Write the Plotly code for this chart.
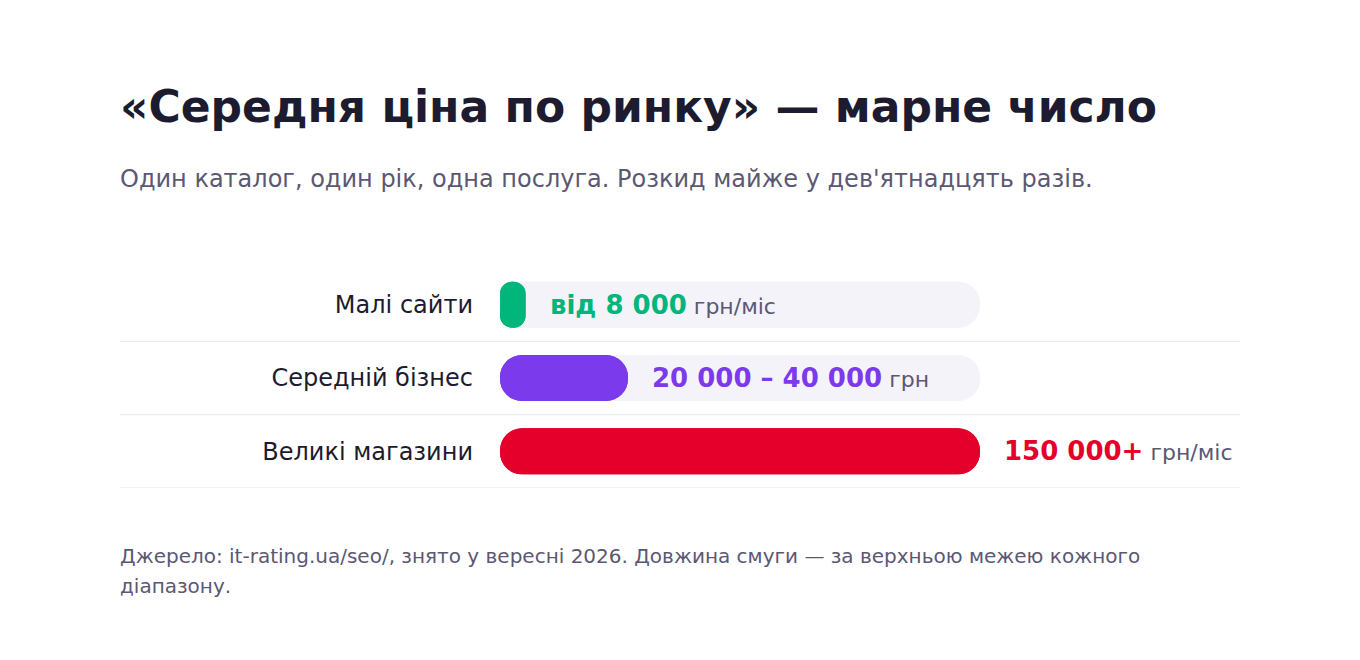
import plotly.graph_objects as go

# %% Дані
categories = ["Малі сайти", "Середній бізнес", "Великі магазини"]
upper_values = [8000, 40000, 150000]          # верхня межа діапазону, грн
value_labels = ["від 8 000", "20 000 – 40 000", "150 000+"]
unit_labels = ["грн/міс", "грн", "грн/міс"]
bar_colors = ["#00b67a", "#7c3aed", "#e4002b"]
track_max = 150000

# %% Розмітка сторінки (пікселі; сторінка має відступ 8px)
W, H = 1360, 660
OFF = 8
L, R, T, B = 500 - OFF, 380 + OFF, 268 - OFF, 172 + OFF
plot_w, plot_h = W - L - R, H - T - B

def px_x(px):
    return (px - OFF - L) / plot_w

def px_y(py):
    return (H - B - (py - OFF)) / plot_h

FONT = "DejaVu Sans"
DARK = "#1d1b2f"
GRAY = "#5b5873"
TEXT_X = px_x(118)   # анотації мають власний відступ ~2px

fig = go.Figure()

# фонові доріжки (два бари, щоб заокруглити обидва кінці)
for base, sign in [(0, 1), (track_max, -1)]:
    fig.add_trace(go.Bar(
        y=categories, x=[sign * track_max] * len(categories), base=[base] * len(categories),
        orientation="h", width=0.627, marker=dict(color="#f4f3fa", cornerradius=23, line_width=0),
        hoverinfo="skip", showlegend=False,
    ))

# самі смуги
for base_side in [0, 1]:
    fig.add_trace(go.Bar(
        y=categories,
        x=[v if base_side == 0 else -v for v in upper_values],
        base=[0 if base_side == 0 else v for v in upper_values],
        orientation="h", width=0.627,
        marker=dict(color=bar_colors, cornerradius=23, line_width=0),
        hoverinfo="skip", showlegend=False,
    ))

# підписи значень
for cat, v, lab, unit, col in zip(categories, upper_values, value_labels, unit_labels, bar_colors):
    fig.add_annotation(
        x=v, y=cat, xref="x", yref="y", xanchor="left", yanchor="middle", xshift=22,
        showarrow=False,
        text=f"<b><span style='color:{col};font-size:26px'>{lab}</span></b>"
             f" <span style='color:{GRAY};font-size:22px'>{unit}</span>",
        font=dict(family=FONT, size=22, color=GRAY),
    )

# розділювачі рядків
for i in range(len(categories)):
    fig.add_shape(type="line", xref="paper", yref="y",
                  x0=px_x(120), x1=px_x(1240), y0=i + 0.5, y1=i + 0.5,
                  line=dict(color="#e6e4f0", width=1))

# заголовок, підзаголовок, джерело
fig.add_annotation(x=TEXT_X, y=px_y(106), xref="paper", yref="paper",
                   xanchor="left", yanchor="middle", showarrow=False,
                   text="<b>«Середня ціна по ринку» — марне число</b>",
                   font=dict(family=FONT, size=44, color=DARK))
fig.add_annotation(x=TEXT_X, y=px_y(179), xref="paper", yref="paper",
                   xanchor="left", yanchor="middle", showarrow=False,
                   text="Один каталог, один рік, одна послуга. Розкид майже у дев'ятнадцять разів.",
                   font=dict(family=FONT, size=24, color=GRAY))
fig.add_annotation(x=TEXT_X, y=px_y(556), xref="paper", yref="paper",
                   xanchor="left", yanchor="middle", showarrow=False,
                   text="Джерело: it-rating.ua/seo/, знято у вересні 2026. Довжина смуги — за верхньою межею кожного",
                   font=dict(family=FONT, size=20, color=GRAY))
fig.add_annotation(x=TEXT_X, y=px_y(586), xref="paper", yref="paper",
                   xanchor="left", yanchor="middle", showarrow=False,
                   text="діапазону.",
                   font=dict(family=FONT, size=20, color=GRAY))

fig.update_layout(
    width=W, height=H,
    margin=dict(l=L, r=R, t=T, b=B),
    paper_bgcolor="white", plot_bgcolor="white",
    barmode="overlay",
    font=dict(family=FONT, color=DARK),
    xaxis=dict(range=[0, track_max], visible=False, fixedrange=True),
    yaxis=dict(type="category", categoryorder="array", categoryarray=categories,
               range=[2.5, -0.5], showgrid=False, zeroline=False, showline=False,
               ticks="", ticklabelstandoff=26,
               tickfont=dict(family=FONT, size=24, color=DARK), fixedrange=True),
)

fig.write_html("out.html", config={"displayModeBar": False})
